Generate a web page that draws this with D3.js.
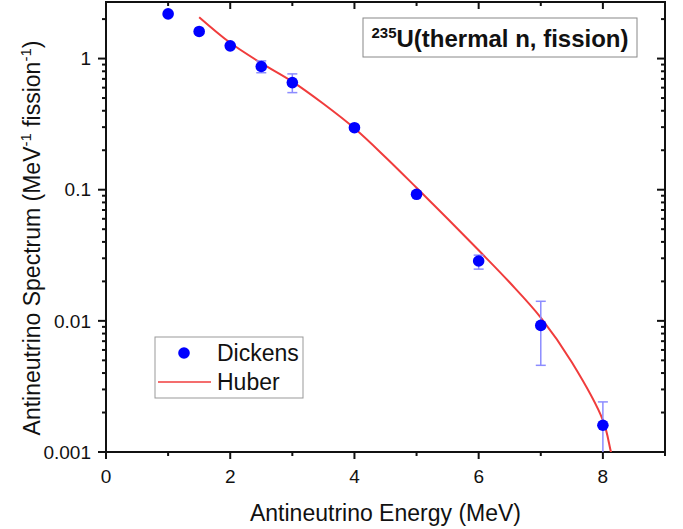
<!DOCTYPE html>
<html>
<head>
<meta charset="utf-8">
<script src="https://cdn.jsdelivr.net/npm/d3@7"></script>
<style>
  body { margin: 0; background: #fff; }
  text { font-family: Arial, "Liberation Sans", sans-serif; fill: #111; }
</style>
</head>
<body>
<div id="chart"></div>
<script>
// Dickens measured points (MeV, per MeV per fission)
var dickensE = [1, 1.5, 2, 2.5, 3, 4, 5, 6, 7, 8];
var dickensV = [2.19, 1.61, 1.25, 0.87, 0.656, 0.297, 0.0923, 0.0286, 0.00923, 0.0016];
var dickensLo = [2.12, 1.56, 1.21, 0.78, 0.55, 0.287, 0.089, 0.0248, 0.00458, 0.0008];
var dickensHi = [2.26, 1.66, 1.29, 0.96, 0.764, 0.307, 0.0957, 0.0317, 0.0141, 0.00241];

// Huber prediction
var huberE = [1.5, 2, 2.5, 3, 3.5, 4, 4.5, 5, 5.5, 6, 6.5, 7, 7.5, 8, 8.13, 8.2];
var huberV = [2.07, 1.32, 0.923, 0.667, 0.452, 0.294, 0.177, 0.1035, 0.060, 0.0345, 0.0196, 0.0106, 0.00484, 0.00175, 0.001, 0.00074];

var xTicks = [0, 2, 4, 6, 8];
var yTicks = [0.001, 0.01, 0.1, 1];
var yTickLabels = ["0.001", "0.01", "0.1", "1"];

var W = 683, H = 529;
var margin = {top: 2, right: 18, bottom: 77, left: 106};

var svg = d3.select("#chart").append("svg")
    .attr("width", W)
    .attr("height", H);

var x = d3.scaleLinear().domain([0, 9]).range([margin.left, W - margin.right]);
var y = d3.scaleLog().domain([0.001, 2.7]).range([H - margin.bottom, margin.top]);

svg.append("clipPath").attr("id", "plotclip")
  .append("rect")
    .attr("x", x(0)).attr("y", y(2.7))
    .attr("width", x(9) - x(0)).attr("height", y(0.001) - y(2.7));

// minor ticks for the log axis: 2..9 in each decade
var yMinor = [];
[0.001, 0.01, 0.1, 1].forEach(function(d){
  for (var k = 2; k <= 9; k++) {
    if (d * k <= 2.7) yMinor.push(d * k);
  }
});
var xMinor = [1, 3, 5, 7, 9];

var axisG = svg.append("g");

// left axis, ticks outward
axisG.selectAll(".ylmaj").data(yTicks).enter().append("line")
  .attr("x1", x(0) - 8).attr("x2", x(0))
  .attr("y1", function(d){ return y(d); }).attr("y2", function(d){ return y(d); })
  .attr("stroke", "#111").attr("stroke-width", 2);
axisG.selectAll(".ylmin").data(yMinor).enter().append("line")
  .attr("x1", x(0) - 4).attr("x2", x(0))
  .attr("y1", function(d){ return y(d); }).attr("y2", function(d){ return y(d); })
  .attr("stroke", "#111").attr("stroke-width", 2);

// right axis, ticks inward
axisG.selectAll(".yrmaj").data(yTicks).enter().append("line")
  .attr("x1", x(9) - 8).attr("x2", x(9))
  .attr("y1", function(d){ return y(d); }).attr("y2", function(d){ return y(d); })
  .attr("stroke", "#111").attr("stroke-width", 2);
axisG.selectAll(".yrmin").data(yMinor).enter().append("line")
  .attr("x1", x(9) - 4).attr("x2", x(9))
  .attr("y1", function(d){ return y(d); }).attr("y2", function(d){ return y(d); })
  .attr("stroke", "#111").attr("stroke-width", 2);

// bottom axis, ticks outward
axisG.selectAll(".xbmaj").data(xTicks).enter().append("line")
  .attr("x1", function(d){ return x(d); }).attr("x2", function(d){ return x(d); })
  .attr("y1", y(0.001)).attr("y2", y(0.001) + 7)
  .attr("stroke", "#111").attr("stroke-width", 2);
axisG.selectAll(".xbmin").data(xMinor).enter().append("line")
  .attr("x1", function(d){ return x(d); }).attr("x2", function(d){ return x(d); })
  .attr("y1", y(0.001)).attr("y2", y(0.001) + 4)
  .attr("stroke", "#111").attr("stroke-width", 2);

// top axis, ticks inward
axisG.selectAll(".xtmaj").data(xTicks).enter().append("line")
  .attr("x1", function(d){ return x(d); }).attr("x2", function(d){ return x(d); })
  .attr("y1", y(2.7)).attr("y2", y(2.7) + 7)
  .attr("stroke", "#111").attr("stroke-width", 2);
axisG.selectAll(".xtmin").data(xMinor).enter().append("line")
  .attr("x1", function(d){ return x(d); }).attr("x2", function(d){ return x(d); })
  .attr("y1", y(2.7)).attr("y2", y(2.7) + 4)
  .attr("stroke", "#111").attr("stroke-width", 2);

// frame
axisG.append("rect")
  .attr("x", x(0)).attr("y", y(2.7))
  .attr("width", x(9) - x(0)).attr("height", y(0.001) - y(2.7))
  .attr("fill", "none").attr("stroke", "#111").attr("stroke-width", 2);

// tick labels
axisG.selectAll(".xlab").data(xTicks).enter().append("text")
  .attr("x", function(d){ return x(d); })
  .attr("y", y(0.001) + 31)
  .attr("text-anchor", "middle")
  .style("font-size", "19px")
  .text(function(d){ return d; });

axisG.selectAll(".ylab").data(yTicks).enter().append("text")
  .attr("x", x(0) - 15)
  .attr("y", function(d){ return y(d); })
  .attr("dy", "0.35em")
  .attr("text-anchor", "end")
  .style("font-size", "19px")
  .text(function(d, i){ return yTickLabels[i]; });

// axis titles
svg.append("text")
  .attr("x", (x(0) + x(9)) / 2)
  .attr("y", 521)
  .attr("text-anchor", "middle")
  .style("font-size", "23px")
  .text("Antineutrino Energy (MeV)");

var yTitle = svg.append("text")
  .attr("transform", "translate(40," + 238 + ") rotate(-90)")
  .attr("text-anchor", "middle")
  .style("font-size", "23px");
yTitle.append("tspan").text("Antineutrino Spectrum (MeV");
yTitle.append("tspan").attr("dy", -9).style("font-size", "15px").text("-1");
yTitle.append("tspan").attr("dy", 9).text(" fission");
yTitle.append("tspan").attr("dy", -9).style("font-size", "15px").text("-1");
yTitle.append("tspan").attr("dy", 9).text(")");

var plot = svg.append("g").attr("clip-path", "url(#plotclip)");

// Huber curve
var huber = huberE.map(function(e, i){ return [e, huberV[i]]; });
var line = d3.line()
  .x(function(d){ return x(d[0]); })
  .y(function(d){ return y(d[1]); })
  .curve(d3.curveCatmullRom);
plot.append("path")
  .datum(huber)
  .attr("d", line)
  .attr("fill", "none")
  .attr("stroke", "#f03c3c")
  .attr("stroke-width", 2);

// Dickens error bars
var pts = dickensE.map(function(e, i){
  return {e: e, v: dickensV[i], lo: dickensLo[i], hi: dickensHi[i]};
});
var eb = plot.selectAll(".eb").data(pts).enter().append("g")
  .attr("stroke", "#8c8cff").attr("stroke-width", 1.5);
eb.append("line")
  .attr("x1", function(d){ return x(d.e); }).attr("x2", function(d){ return x(d.e); })
  .attr("y1", function(d){ return y(d.lo); }).attr("y2", function(d){ return y(d.hi); });
eb.append("line")
  .attr("x1", function(d){ return x(d.e) - 5; }).attr("x2", function(d){ return x(d.e) + 5; })
  .attr("y1", function(d){ return y(d.lo); }).attr("y2", function(d){ return y(d.lo); });
eb.append("line")
  .attr("x1", function(d){ return x(d.e) - 5; }).attr("x2", function(d){ return x(d.e) + 5; })
  .attr("y1", function(d){ return y(d.hi); }).attr("y2", function(d){ return y(d.hi); });

// Dickens points
svg.selectAll(".pt").data(pts).enter().append("circle")
  .attr("cx", function(d){ return x(d.e); })
  .attr("cy", function(d){ return y(d.v); })
  .attr("r", 5.8)
  .attr("fill", "#0000ff");

// legend
var lg = svg.append("g");
lg.append("rect")
  .attr("x", 155).attr("y", 337).attr("width", 148).attr("height", 61)
  .attr("fill", "#fff").attr("stroke", "#999").attr("stroke-width", 1);
lg.append("circle").attr("cx", 184).attr("cy", 353).attr("r", 5.8).attr("fill", "#0000ff");
lg.append("text").attr("x", 217).attr("y", 361).style("font-size", "23px").text("Dickens");
lg.append("line").attr("x1", 158).attr("x2", 211).attr("y1", 382).attr("y2", 382)
  .attr("stroke", "#f03c3c").attr("stroke-width", 1.5);
lg.append("text").attr("x", 217).attr("y", 390).style("font-size", "23px").text("Huber");

// title box
var tb = svg.append("g");
tb.append("rect")
  .attr("x", 363).attr("y", 18).attr("width", 274).attr("height", 39)
  .attr("fill", "#fff").attr("stroke", "#888").attr("stroke-width", 1);
var tt = tb.append("text")
  .attr("x", 500).attr("y", 47)
  .attr("text-anchor", "middle")
  .style("font-size", "24px").style("font-weight", "bold");
tt.append("tspan").attr("dy", -9).style("font-size", "15px").text("235");
tt.append("tspan").attr("dy", 9).text("U(thermal n, fission)");
</script>
</body>
</html>
